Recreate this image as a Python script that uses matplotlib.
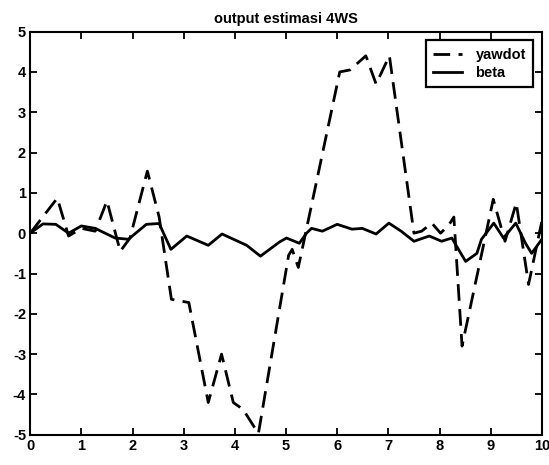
import numpy as np
import matplotlib
matplotlib.use("Agg")
import matplotlib.pyplot as plt

plt.rcParams['font.family'] = ['Liberation Sans', 'DejaVu Sans']
plt.rcParams['axes.unicode_minus'] = False

# yawdot (dashed)
yaw_t = [0, 0.53, 0.75, 1.0, 1.27, 1.5, 1.76, 1.95, 2.29, 2.52, 2.76, 3.1,
         3.48, 3.74, 3.97, 4.16, 4.46, 5.05, 5.12, 5.24, 6.05, 6.25, 6.56,
         6.76, 7.02, 7.5, 7.65, 7.85, 8.02, 8.18, 8.28, 8.44, 9.05, 9.28,
         9.5, 9.74, 10]
yawdot = [0, 0.87, -0.07, 0.12, 0.05, 0.8, -0.45, -0.12, 1.54, 0.4, -1.64, -1.72,
          -4.2, -3.0, -4.2, -4.37, -4.97, -0.55, -0.4, -0.85, 4.0, 4.05, 4.4,
          3.7, 4.4, 0.0, 0.05, 0.25, 0.0, 0.2, 0.4, -2.8, 0.84, -0.2,
          0.75, -1.27, 0.3]

# beta (solid)
beta_t = [0, 0.25, 0.5, 0.75, 1.0, 1.27, 1.66, 1.92, 2.27, 2.52, 2.75, 3.06,
          3.48, 3.75, 4.23, 4.5, 4.87, 5.01, 5.26, 5.4, 5.5, 5.71, 6.0, 6.29,
          6.49, 6.76, 7.01, 7.25, 7.5, 7.8, 8.04, 8.24, 8.51, 8.73, 8.82,
          9.06, 9.25, 9.49, 9.68, 9.8, 10]
beta = [0, 0.23, 0.22, 0, 0.18, 0.12, -0.12, -0.15, 0.22, 0.24, -0.4, -0.07,
        -0.3, -0.02, -0.3, -0.57, -0.22, -0.12, -0.25, 0.0, 0.12, 0.05, 0.22, 0.1,
        0.12, -0.02, 0.25, 0.05, -0.2, -0.07, -0.2, -0.12, -0.7, -0.5, -0.15,
        0.25, -0.12, 0.25, -0.25, -0.5, -0.15]

fig = plt.figure(figsize=(5.49, 4.65), dpi=100)
ax = fig.add_axes([0.055, 0.065, 0.932, 0.867])

ax.plot(yaw_t, yawdot, color='black', lw=2.0, linestyle=(0, (6, 3)), label='yawdot')
ax.plot(beta_t, beta, color='black', lw=2.0, label='beta')

ax.set_xlim(0, 10)
ax.set_ylim(-5, 5)
ax.set_xticks(np.arange(0, 11, 1))
ax.set_yticks(np.arange(-5, 6, 1))
ax.tick_params(direction='in', top=True, right=True, length=5, width=1.3,
               labelsize=10.5, pad=3)
for lab in ax.get_xticklabels() + ax.get_yticklabels():
    lab.set_fontweight('bold')
for s in ax.spines.values():
    s.set_linewidth(1.5)

ax.set_title('output estimasi 4WS', fontsize=10.5, fontweight='bold', pad=6)

leg = ax.legend(loc='upper right', prop={'weight': 'bold', 'size': 10.5},
                fancybox=False, framealpha=1, edgecolor='black',
                handlelength=2.0, borderaxespad=0.6, borderpad=0.5,
                labelspacing=0.3, handletextpad=0.9)
leg.get_frame().set_linewidth(1.6)

plt.savefig('out.png', dpi=100)
